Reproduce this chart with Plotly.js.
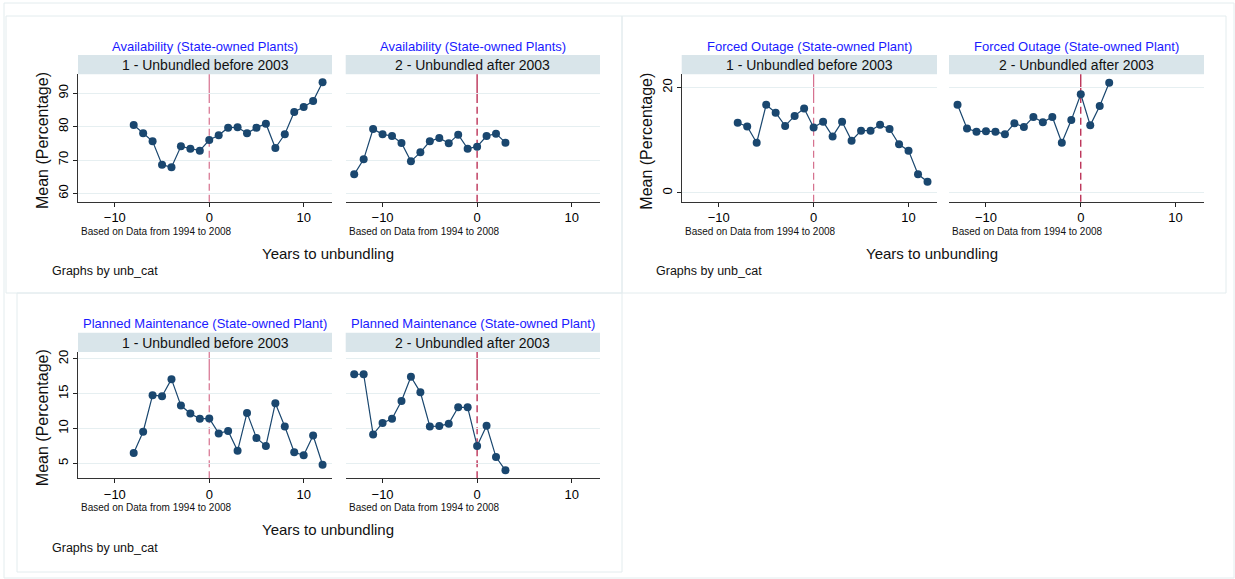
<!DOCTYPE html>
<html>
<head>
<meta charset="utf-8">
<script src="https://cdn.plot.ly/plotly-3.0.1.min.js"></script>
<style>
  html, body { margin: 0; padding: 0; background: #ffffff; }
  #chart { width: 1235px; height: 579px; }
</style>
</head>
<body>
<div id="chart"></div>
<script>
// Years relative to unbundling, per group
const yearsBefore = [-8, -7, -6, -5, -4, -3, -2, -1, 0, 1, 2, 3, 4, 5, 6, 7, 8, 9, 10, 11, 12];
const yearsAfter = [-13, -12, -11, -10, -9, -8, -7, -6, -5, -4, -3, -2, -1, 0, 1, 2, 3];

// Mean availability (%)
const availBefore = [80.5, 78.0, 75.6, 68.6, 67.8, 74.1, 73.4, 72.8, 76.0, 77.4, 79.7, 79.8, 78.0, 79.7, 80.9, 73.6, 77.7, 84.4, 85.9, 87.7, 93.3];
const availAfter = [65.7, 70.2, 79.3, 77.7, 77.2, 75.1, 69.6, 72.3, 75.6, 76.6, 75.0, 77.6, 73.4, 74.0, 77.2, 77.9, 75.2];

// Mean forced outage (%)
const forcedBefore = [13.3, 12.6, 9.5, 16.7, 15.2, 12.7, 14.6, 16.0, 12.4, 13.5, 10.7, 13.5, 9.9, 11.8, 11.8, 12.9, 12.1, 9.2, 8.0, 3.5, 2.1];
const forcedAfter = [16.7, 12.2, 11.6, 11.7, 11.6, 11.1, 13.2, 12.5, 14.4, 13.4, 14.4, 9.5, 13.8, 18.7, 12.8, 16.5, 20.9];

// Mean planned maintenance (%)
const plannedBefore = [6.5, 9.55, 14.8, 14.65, 17.1, 13.3, 12.15, 11.4, 11.45, 9.3, 9.65, 6.8, 12.25, 8.65, 7.5, 13.65, 10.3, 6.6, 6.15, 9.0, 4.8];
const plannedAfter = [17.8, 17.8, 9.15, 10.8, 11.4, 13.95, 17.45, 15.2, 10.3, 10.35, 10.7, 13.05, 13.05, 7.5, 10.4, 5.9, 4.0];

// Titles and labels
const measureTitles = ["Availability (State-owned Plants)", "Forced Outage (State-owned Plant)", "Planned Maintenance (State-owned Plant)"];
const groupLabels = ["1 - Unbundled before 2003", "2 - Unbundled after 2003"];
const xTicks = [-10, 0, 10];
const yTicksAvail = [60, 70, 80, 90];
const yTicksForced = [0, 20];
const yTicksPlanned = [5, 10, 15, 20];
const noteText = "Based on Data from 1994 to 2008";
const xTitle = "Years to unbundling";
const yTitle = "Mean (Percentage)";
const byText = "Graphs by unb_cat";

const W = 1235, H = 579;
const X = px => px / W;
const Y = py => 1 - py / H;

const FONT = "Liberation Sans, Arial, Helvetica, sans-serif";
const MARK = "#1a476f";
const GRID = "#e6eff1";
const STRIP = "#d9e5ea";
const FRAME = "#e3ecee";
const REF1 = "#d6708e";
const REF2 = "#b0113c";

// Panel geometry in pixels: [left, right] and [top, bottom] of plot areas
const colL = [[78, 332], [345.7, 600]];
const colR = [[681.7, 937], [949, 1204]];
const rowTop = [74.3, 201.7];
const rowBot = [352, 478.3];

const panels = [
  { x: yearsBefore, y: availBefore,   cols: colL[0], rows: rowTop, range: [57.5, 95.7], ticks: yTicksAvail,   left: true,  title: measureTitles[0], strip: groupLabels[0], ref: REF1 },
  { x: yearsAfter,  y: availAfter,    cols: colL[1], rows: rowTop, range: [57.5, 95.7], ticks: yTicksAvail,   left: false, title: measureTitles[0], strip: groupLabels[1], ref: REF2 },
  { x: yearsBefore, y: forcedBefore,  cols: colR[0], rows: rowTop, range: [-1.7, 22.5], ticks: yTicksForced,  left: true,  title: measureTitles[1], strip: groupLabels[0], ref: REF1 },
  { x: yearsAfter,  y: forcedAfter,   cols: colR[1], rows: rowTop, range: [-1.7, 22.5], ticks: yTicksForced,  left: false, title: measureTitles[1], strip: groupLabels[1], ref: REF2 },
  { x: yearsBefore, y: plannedBefore, cols: colL[0], rows: rowBot, range: [2.85, 21.0], ticks: yTicksPlanned, left: true,  title: measureTitles[2], strip: groupLabels[0], ref: REF1 },
  { x: yearsAfter,  y: plannedAfter,  cols: colL[1], rows: rowBot, range: [2.85, 21.0], ticks: yTicksPlanned, left: false, title: measureTitles[2], strip: groupLabels[1], ref: REF2 }
];

const traces = [];
const layout = {
  width: W, height: H,
  margin: { l: 0, r: 0, t: 0, b: 0 },
  paper_bgcolor: "#ffffff",
  plot_bgcolor: "#ffffff",
  showlegend: false,
  font: { family: FONT, color: "#000000" },
  shapes: [],
  annotations: []
};

// Outer frame and sub-graph boxes
const boxes = [[4, 3, 1234, 578], [6, 16, 622, 293], [622, 16, 1226, 293], [17, 293, 622, 572]];
boxes.forEach(b => layout.shapes.push({
  type: "rect", xref: "paper", yref: "paper", layer: "below",
  x0: X(b[0]), x1: X(b[2]), y0: Y(b[3]), y1: Y(b[1]),
  line: { color: FRAME, width: 1 }, fillcolor: "rgba(0,0,0,0)"
}));

panels.forEach((p, i) => {
  const n = i + 1;
  const xa = n === 1 ? "x" : "x" + n;
  const ya = n === 1 ? "y" : "y" + n;
  traces.push({
    type: "scatter", mode: "lines+markers",
    x: p.x, y: p.y, xaxis: xa, yaxis: ya,
    line: { color: MARK, width: 1.2 },
    marker: { color: MARK, size: 8, symbol: "circle" },
    hoverinfo: "x+y"
  });

  layout["xaxis" + (n === 1 ? "" : n)] = {
    domain: [X(p.cols[0]), X(p.cols[1])],
    anchor: ya,
    range: [-13.9, 13.0],
    tickvals: xTicks,
    ticks: "outside", ticklen: 4, tickcolor: "#222", tickwidth: 1,
    showline: true, linecolor: "#333", linewidth: 1,
    showgrid: false, zeroline: false,
    tickfont: { family: FONT, size: 13, color: "#000" }
  };
  layout["yaxis" + (n === 1 ? "" : n)] = {
    domain: [Y(p.rows[1]), Y(p.rows[0])],
    anchor: xa,
    range: p.range,
    tickvals: p.ticks,
    tickangle: -90,
    showticklabels: p.left,
    ticks: p.left ? "outside" : "",
    ticklen: 4, tickcolor: "#222", tickwidth: 1,
    showline: p.left, linecolor: "#333", linewidth: 1,
    showgrid: true, gridcolor: GRID, gridwidth: 1,
    zeroline: false,
    tickfont: { family: FONT, size: 13, color: "#000" }
  };

  // Strip with group label
  const stripTop = p.rows[0] - 19.3;
  layout.shapes.push({
    type: "rect", xref: "paper", yref: "paper", layer: "below",
    x0: X(p.cols[0]), x1: X(p.cols[1]), y0: Y(p.rows[0]), y1: Y(stripTop),
    line: { width: 0 }, fillcolor: STRIP
  });
  layout.annotations.push({
    xref: "paper", yref: "paper", x: X((p.cols[0] + p.cols[1]) / 2), y: Y(p.rows[0] - 9.5),
    text: p.strip, showarrow: false, xanchor: "center", yanchor: "middle",
    font: { family: FONT, size: 14, color: "#111" }
  });
  // Measure title above the strip
  layout.annotations.push({
    xref: "paper", yref: "paper", x: X((p.cols[0] + p.cols[1]) / 2), y: Y(stripTop - 9),
    text: p.title, showarrow: false, xanchor: "center", yanchor: "middle",
    font: { family: FONT, size: 13, color: "#1a1aff" }
  });
  // Data note under the axis
  layout.annotations.push({
    xref: "paper", yref: "paper", x: X(p.cols[0] + 1), y: Y(p.rows[1] + 29.5),
    text: noteText, showarrow: false, xanchor: "left", yanchor: "middle",
    font: { family: FONT, size: 10, color: "#111" }
  });

  // Reference line at the unbundling year: solid upper part, dashed below
  layout.shapes.push({
    type: "line", xref: xa, yref: ya + " domain", layer: "below",
    x0: 0, x1: 0, y0: 0.775, y1: 1,
    line: { color: p.ref, width: 1.2 }
  });
  layout.shapes.push({
    type: "line", xref: xa, yref: ya + " domain", layer: "below",
    x0: 0, x1: 0, y0: 0, y1: 0.775,
    line: { color: p.ref, width: 1.2, dash: "7px,4px" }
  });
});

// Shared axis titles and "graphs by" notes per combined graph
const groups = [
  { cols: [colL[0][0], colL[1][1]], rows: rowTop, by: [50, 271] },
  { cols: [colR[0][0], colR[1][1]], rows: rowTop, by: [654, 271] },
  { cols: [colL[0][0], colL[1][1]], rows: rowBot, by: [50, 548] }
];
groups.forEach(g => {
  layout.annotations.push({
    xref: "paper", yref: "paper", x: X((g.cols[0] + g.cols[1]) / 2 - 11), y: Y(g.rows[1] + 51.5),
    text: xTitle, showarrow: false, xanchor: "center", yanchor: "middle",
    font: { family: FONT, size: 15, color: "#111" }
  });
  layout.annotations.push({
    xref: "paper", yref: "paper", x: X(g.cols[0] - 36), y: Y((g.rows[0] + g.rows[1]) / 2 + 3),
    text: yTitle, showarrow: false, textangle: -90, xanchor: "center", yanchor: "middle",
    font: { family: FONT, size: 16, color: "#111" }
  });
  layout.annotations.push({
    xref: "paper", yref: "paper", x: X(g.by[0]), y: Y(g.by[1]),
    text: byText, showarrow: false, xanchor: "left", yanchor: "middle",
    font: { family: FONT, size: 12.5, color: "#111" }
  });
});

Plotly.newPlot("chart", traces, layout, { displayModeBar: false, staticPlot: true });
</script>
</body>
</html>
